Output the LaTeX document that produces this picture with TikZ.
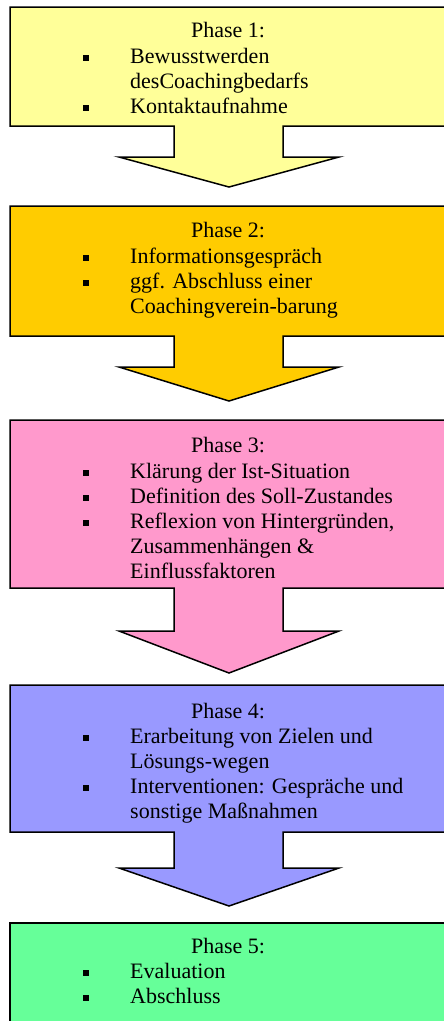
\documentclass[tikz,border=0pt]{standalone}
\usepackage{fontspec}
\setmainfont{Liberation Serif}
\definecolor{phaseone}{HTML}{FFFF99}
\definecolor{phasetwo}{HTML}{FFCC00}
\definecolor{phasethree}{HTML}{FF99CC}
\definecolor{phasefour}{HTML}{9999FF}
\definecolor{phasefive}{HTML}{66FF99}
\newcommand{\bul}{\llap{\raisebox{2pt}{\rule{6pt}{6pt}}\hspace{41pt}}}
\tikzstyle{phase} = [draw=black, line width=1.5pt, line join=miter]
\tikzstyle{title} = [inner sep=0pt, anchor=base, font=\fontsize{22}{25}\selectfont]
\tikzstyle{items} = [inner sep=0pt, anchor=base west, align=left, font=\fontsize{22}{25}\selectfont]
\begin{document}
\begin{tikzpicture}[x=1pt, y=-1pt]
      \clip (0,0) rectangle (444,1021);
      % phase boxes with arrows
      \draw[phase, fill=phaseone] (10,7) -- (450,7) -- (450,126) -- (283,126) -- (283,157) -- (339,157) -- (229,187) -- (119,157) -- (174,157) -- (174,126) -- (10,126) -- cycle;
      \draw[phase, fill=phasetwo] (10,206) -- (450,206) -- (450,336) -- (283,336) -- (283,367) -- (339,367) -- (229,401) -- (119,367) -- (174,367) -- (174,336) -- (10,336) -- cycle;
      \draw[phase, fill=phasethree] (10,420) -- (450,420) -- (450,588) -- (283,588) -- (283,631) -- (339,631) -- (229,673) -- (119,631) -- (174,631) -- (174,588) -- (10,588) -- cycle;
      \draw[phase, fill=phasefour] (10,685) -- (450,685) -- (450,832) -- (283,832) -- (283,868) -- (339,868) -- (229,906) -- (119,868) -- (174,868) -- (174,832) -- (10,832) -- cycle;
      \draw[phase, fill=phasefive] (10,923) rectangle (450,1030);
      % texts (list nodes sit on the baseline of their last line)
      \node[title] (t1) at (228,37) {Phase 1:};
      \node[items] (l1) at (130,113) {\bul Bewusstwerden\\ desCoachingbedarfs\\ \bul Kontaktaufnahme};
      \node[title] (t2) at (228,237) {Phase 2:};
      \node[items] (l2) at (130,313) {\bul Informationsgespräch\\ \bul ggf. Abschluss einer\\ Coachingverein-barung};
      \node[title] (t3) at (228,452) {Phase 3:};
      \node[items] (l3) at (130,578) {\bul Klärung der Ist-Situation\\ \bul Definition des Soll-Zustandes\\ \bul Reflexion von Hintergründen,\\ Zusammenhängen \&\\ Einflussfaktoren};
      \node[title] (t4) at (228,718) {Phase 4:};
      \node[items] (l4) at (130,818) {\bul Erarbeitung von Zielen und\\ Lösungs-wegen\\ \bul Interventionen: Gespräche und\\ sonstige Maßnahmen};
      \node[title] (t5) at (228,953) {Phase 5:};
      \node[items] (l5) at (130,1003) {\bul Evaluation\\ \bul Abschluss};
    \end{tikzpicture}
\end{document}
